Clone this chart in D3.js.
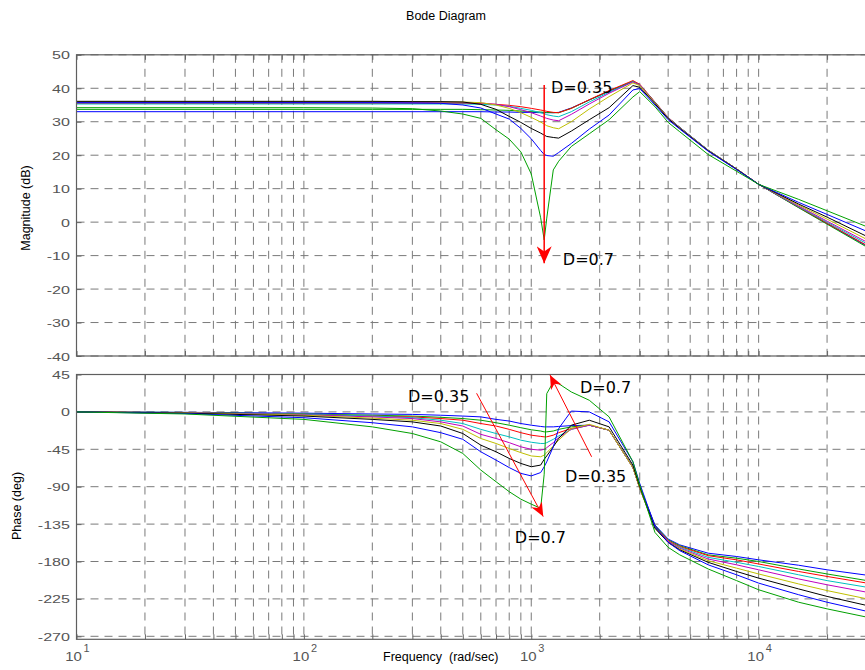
<!DOCTYPE html>
<html>
<head>
<meta charset="utf-8">
<script src="https://cdn.jsdelivr.net/npm/d3@7"></script>
<style>
body { margin: 0; background: #fff; }
text { font-family: "Liberation Sans", Arial, sans-serif; }
</style>
</head>
<body>
<svg id="chart" width="865" height="670"></svg>
<script>
// frequency points (rad/sec) shared by every curve
var freqs = [10, 30, 100, 200, 300, 400, 500, 600, 700, 800, 900, 1000, 1100, 1140, 1170, 1250, 1320,
	1500, 1800, 2200, 2800, 3000, 3500, 4000, 4500, 6000, 8000, 10000, 15000, 20000, 30000, 50000];

// magnitude (dB), one array per curve, D=0.35 ... D=0.7
var mag1 = [33.0,33.0,33.0,33.0,33.0,33.0,33.0,33.0,32.9,32.9,32.8,32.8,32.7,32.7,32.7,32.7,32.8,34.1,36.5,39.1,42.0,41.0,35.8,31.2,28.3,21.5,15.9,11.3,4.4,-0.4,-7.2,-15.8];
var mag2 = [33.7,33.7,33.7,33.7,33.7,33.7,33.7,33.6,33.5,33.4,33.2,33.0,32.9,32.8,32.8,32.7,32.7,34.0,36.5,39.2,42.1,41.1,35.8,31.2,28.3,21.5,15.9,11.3,4.3,-0.6,-7.5,-16.3];
var mag3 = [35.5,35.5,35.5,35.5,35.5,35.5,35.5,35.4,35.2,34.9,34.5,34.0,33.5,33.3,33.1,32.8,32.7,34.0,36.6,39.3,42.3,41.2,35.9,31.3,28.3,21.5,15.9,11.3,4.5,-0.3,-7.0,-15.5];
var mag4 = [35.3,35.3,35.3,35.3,35.3,35.3,35.3,35.2,35.0,34.6,34.0,33.4,32.7,32.4,32.1,31.7,31.5,33.0,35.9,38.8,42.0,41.0,35.8,31.2,28.3,21.5,15.9,11.3,4.6,0.0,-6.5,-14.6];
var mag5 = [35.8,35.8,35.8,35.8,35.8,35.7,35.7,35.6,35.2,34.5,33.6,32.7,31.7,31.3,31.0,30.5,30.3,32.2,35.3,38.5,41.9,41.0,35.7,31.1,28.2,21.4,15.9,11.3,4.8,0.3,-6.0,-13.8];
var mag6 = [36.0,36.0,36.0,36.0,36.0,35.9,35.9,35.7,35.0,34.0,32.7,31.3,29.9,29.3,28.8,28.2,27.9,30.0,33.8,37.5,41.6,40.8,35.6,31.0,28.1,21.4,15.9,11.3,5.1,0.9,-5.2,-12.6];
var mag7 = [36.1,36.1,36.1,36.1,36.0,36.0,35.9,35.2,33.7,31.6,29.8,28.0,26.6,26.0,25.6,25.3,25.1,27.2,30.6,34.2,40.8,40.3,35.4,30.9,28.0,21.3,15.8,11.3,5.4,1.5,-4.3,-11.2];
var mag8 = [35.7,35.7,35.7,35.7,35.6,35.5,35.0,34.1,32.3,30.8,28.0,24.9,21.4,20.2,19.9,19.7,20.8,23.5,27.8,32.0,39.5,39.9,35.0,30.6,27.8,21.2,15.7,11.3,5.9,2.3,-2.8,-9.3];
var mag9 = [34.2,34.2,34.2,34.1,33.9,33.2,32.3,31.0,27.6,24.8,21.0,14.4,1.3,-5.3,1.2,15.6,18.2,22.6,26.4,30.6,37.4,39.0,34.5,29.8,27.0,20.2,15.2,11.3,6.8,3.4,-1.4,-7.4];

// phase (deg), same order
var phase1 = [0,-0.5,-1.5,-2.5,-3,-4,-5,-6,-9,-11,-14,-16,-17.5,-18,-18,-18,-17.5,-16.5,-16,-22,-66,-90,-136,-153,-160,-170,-174,-178,-184.5,-190,-196.5,-205];
var phase2 = [0,-0.7,-2.5,-4,-5,-6.5,-8,-10,-13,-16,-19,-21.5,-23,-24,-24,-23,-21,-18,-16,-22,-67,-91,-137,-154,-161,-172,-176,-180,-189,-195,-203,-213];
var phase3 = [0,-1,-3,-5,-6,-8,-10,-14,-17,-21,-25,-28,-29.5,-30,-30,-28,-25,-20,-16,-22,-67,-92,-138,-155,-162,-173,-178,-183,-192,-198,-206,-217];
var phase4 = [0,-1,-3,-5,-7,-10,-14,-21,-26,-30,-34,-36.5,-38,-38,-37,-33,-29,-21,-16,-22,-67,-92,-139,-156,-163,-175,-181,-186,-196,-203,-211,-223];
var phase5 = [0,-1,-3.5,-6,-8,-12,-17,-27,-32,-37,-42,-45,-46,-45,-43,-37,-31,-21,-16,-22,-67,-92,-139,-156,-164,-177,-184,-190,-201,-208,-217,-230];
var phase6 = [0,-1.2,-4,-7.5,-10,-14,-21,-32,-38,-44,-49,-53,-54,-52,-49,-41,-34,-20,-15,-22,-67,-92,-140,-157,-165,-179,-188,-195,-207,-215,-225,-239];
var phase7 = [0,-1.5,-5,-9,-12,-17,-26,-40,-48,-56,-62,-66,-64,-57,-53,-42,-32,-16,-10,-18,-64,-90,-140,-157,-166,-181,-192,-200,-213,-222,-233,-248];
var phase8 = [0,-2,-7,-13,-18,-25,-33,-48,-58,-67,-74,-77,-73,-66,-60,-42,-20,1,0,-12,-60,-86,-138,-157,-167,-184,-196,-206,-220,-229,-240,-252];
var phase9 = [0,-2.5,-9,-18,-26,-36,-50,-70,-84,-96,-105,-111,-116,-75,22,36,34,24,14,-6,-60,-88,-145,-163,-172,-189,-203,-214,-229,-237,-247,-258];

var lineColors = ['#0000ff','#00a000','#ff0000','#00bfbf','#bf00bf','#bfbf00','#000000','#0000ff','#00a000'];

// tick labels
var magTicks = [-40,-30,-20,-10,0,10,20,30,40,50];
var phaseTicks = [-270,-225,-180,-135,-90,-45,0,45];
var decadeExps = [1,2,3,4];

var magSeries = [mag1,mag2,mag3,mag4,mag5,mag6,mag7,mag8,mag9];
var phaseSeries = [phase1,phase2,phase3,phase4,phase5,phase6,phase7,phase8,phase9];

var left = 76.5, right = 986;
var x = d3.scaleLog().domain([10,1e5]).range([left,right]);
var yMag = d3.scaleLinear().domain([-40,50]).range([356,54.8]);
var yPh = d3.scaleLinear().domain([-270,45]).range([636.3,374.5]);

// grid positions 1..9 x 10^k
var gridX = [];
decadeExps.forEach(function(e){
	for (var m=1;m<10;m++) gridX.push(m*Math.pow(10,e));
});
gridX.push(1e5);

var svg = d3.select('#chart');
svg.append('rect').attr('width',865).attr('height',670).attr('fill','#fff');

var defs = svg.append('defs');
function addHead(id, len, half) {
	defs.append('marker')
		.attr('id',id)
		.attr('markerUnits','userSpaceOnUse')
		.attr('viewBox',(-len)+' '+(-half)+' '+len+' '+(half*2))
		.attr('refX',0).attr('refY',0)
		.attr('markerWidth',len).attr('markerHeight',half*2)
		.attr('orient','auto')
		.append('path')
		.attr('d','M0,0 L'+(-len)+','+(-half)+' L'+(-len*0.7)+',0 L'+(-len)+','+half+' Z')
		.attr('fill','#ff0000');
}
addHead('headBig',17,7.5);
addHead('headSmall',14,6);

// stretched text helper (reference glyphs are drawn wide)
function label(g, px, py, str, opt) {
	opt = opt || {};
	return g.append('text')
		.attr('transform','translate('+px+','+py+') scale('+(opt.sx||1)+',1)')
		.attr('text-anchor',opt.anchor||'start')
		.attr('font-size',opt.size||12)
		.attr('fill',opt.fill||'#000')
		.style('font-family',opt.family||null)
		.text(str);
}

var line = d3.line().x(function(d,i){return x(freqs[i]);});

function panel(name, y, top, bottom, ticks, series) {
	var g = svg.append('g');
	defs.append('clipPath').attr('id','clip-'+name)
		.append('rect').attr('x',left).attr('y',top).attr('width',right-left).attr('height',bottom-top);

	// dashed grid
	g.selectAll('.gx').data(gridX).enter().append('line')
		.attr('x1',function(d){return x(d);}).attr('x2',function(d){return x(d);})
		.attr('y1',top).attr('y2',bottom)
		.attr('stroke','#7a7a7a').attr('stroke-dasharray','8,6');
	g.selectAll('.gy').data(ticks).enter().append('line')
		.attr('x1',left).attr('x2',right)
		.attr('y1',function(d){return y(d);}).attr('y2',function(d){return y(d);})
		.attr('stroke','#7a7a7a').attr('stroke-dasharray','8,6');

	// inner ticks
	g.append('g').attr('transform','translate(0,'+bottom+')')
		.call(d3.axisBottom(x).tickValues(gridX).tickSize(-5).tickFormat(''))
		.call(function(a){a.select('.domain').remove(); a.selectAll('line').attr('stroke','#666');});
	g.append('g').attr('transform','translate(0,'+top+')')
		.call(d3.axisTop(x).tickValues(gridX).tickSize(-5).tickFormat(''))
		.call(function(a){a.select('.domain').remove(); a.selectAll('line').attr('stroke','#666');});
	g.append('g').attr('transform','translate('+left+',0)')
		.call(d3.axisLeft(y).tickValues(ticks).tickSize(-5).tickFormat(''))
		.call(function(a){a.select('.domain').remove(); a.selectAll('line').attr('stroke','#666');});

	// curves
	var lg = g.append('g').attr('clip-path','url(#clip-'+name+')');
	series.forEach(function(vals,k){
		lg.append('path')
			.attr('d',line.y(function(d){return y(d);})(vals))
			.attr('fill','none')
			.attr('stroke',lineColors[k])
			.attr('stroke-width',1);
	});

	// frame
	g.append('rect').attr('x',left).attr('y',top).attr('width',right-left).attr('height',bottom-top)
		.attr('fill','none').attr('stroke','#5f5f5f').attr('stroke-width',1.2);

	// tick labels
	ticks.forEach(function(t){
		label(g, 70, y(t)+4.5, String(t), {anchor:'end', size:11.5, sx:1.4, fill:'#555'});
	});
	return g;
}

var gMag = panel('mag', yMag, 54.8, 356, magTicks, magSeries);
var gPh = panel('ph', yPh, 374.5, 639.3, phaseTicks, phaseSeries);

// x tick labels 10^k
decadeExps.forEach(function(e){
	var px = x(Math.pow(10,e));
	label(svg, px-3, 661, '10', {anchor:'middle', size:13, sx:1.15, fill:'#555'});
	label(svg, px+7, 652, String(e), {anchor:'start', size:10, sx:1.1, fill:'#555'});
});

// titles and axis labels
label(svg, 446, 20, 'Bode Diagram', {anchor:'middle', size:12.5});
label(svg, 383, 661, 'Frequency  (rad/sec)', {size:12.5, sx:1.0}).attr('xml:space','preserve');
svg.append('text').attr('transform','translate(30,208) rotate(-90)')
	.attr('text-anchor','middle').attr('font-size',12.5).text('Magnitude (dB)');
svg.append('text').attr('transform','translate(21,506) rotate(-90)')
	.attr('text-anchor','middle').attr('font-size',12.5).text('Phase (deg)');

// annotations
svg.append('line')
	.attr('x1',x(1140)).attr('y1',yMag(41)).attr('x2',x(1140)).attr('y2',yMag(-12.3))
	.attr('stroke','#ff0000').attr('stroke-width',1.5).attr('marker-end','url(#headBig)');
label(svg, x(1221), yMag(38.5), 'D=0.35', {size:16, family:'DejaVu Sans'});
label(svg, x(1377), yMag(-12.7), 'D=0.7', {size:16, family:'DejaVu Sans'});

svg.append('line')
	.attr('x1',x(575)).attr('y1',yPh(22.4)).attr('x2',x(1129)).attr('y2',yPh(-126))
	.attr('stroke','#ff0000').attr('stroke-width',1).attr('marker-end','url(#headSmall)');
svg.append('line')
	.attr('x1',x(1843)).attr('y1',yPh(-54)).attr('x2',x(1209)).attr('y2',yPh(44.4))
	.attr('stroke','#ff0000').attr('stroke-width',1).attr('marker-end','url(#headSmall)');
label(svg, x(287), yPh(12.3), 'D=0.35', {size:16, family:'DejaVu Sans'});
label(svg, x(847), yPh(-157.4), 'D=0.7', {size:16, family:'DejaVu Sans'});
label(svg, x(1637), yPh(22.4), 'D=0.7', {size:16, family:'DejaVu Sans'});
label(svg, x(1406), yPh(-84), 'D=0.35', {size:16, family:'DejaVu Sans'});
</script>
</body>
</html>
